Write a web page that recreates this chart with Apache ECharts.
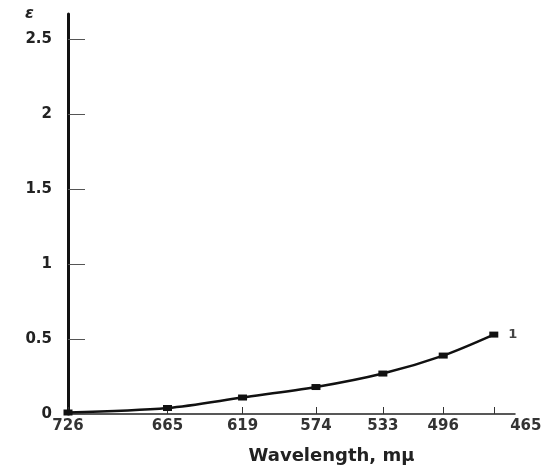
<!DOCTYPE html>
<html><head><meta charset="utf-8">
<script src="https://cdn.jsdelivr.net/npm/echarts@6/dist/echarts.min.js"></script>
<style>html,body{margin:0;padding:0;background:#fff}#c{width:558px;height:470px}</style>
</head><body><div id="c"></div>
<script>
const wavelengths = [726, 665, 619, 574, 533, 496, 465];
const epsilon = [0.01, 0.04, 0.11, 0.18, 0.27, 0.39, 0.53];
const xTicks = [726, 665, 619, 574, 533, 496, 465];
const yTicks = [0, 0.5, 1, 1.5, 2, 2.5];
const curveLabel = '1';

const chart = echarts.init(document.getElementById('c'), null, {renderer: 'canvas'});
const font = '"DejaVu Sans", Verdana, sans-serif';
const seriesData = wavelengths.map((w, i) => {
  const item = {value: [w, epsilon[i]]};
  if (i === wavelengths.length - 1) {
    item.label = {show: true, position: 'right', distance: 10, formatter: curveLabel,
      fontFamily: font, fontSize: 13, fontWeight: 'bold', color: '#444'};
  }
  return item;
});
chart.setOption({
  animation: false,
  backgroundColor: '#fff',
  grid: {left: 68, right: 43, top: 14, bottom: 55},
  xAxis: {
    type: 'value', inverse: true, min: 452, max: 726,
    name: 'Wavelength, m\u03bc', nameLocation: 'middle', nameGap: 33,
    nameTextStyle: {fontFamily: font, fontSize: 18, fontWeight: 'bold', color: '#222', padding: [0, 0, 0, 80]},
    axisLine: {lineStyle: {color: '#222', width: 1.5}},
    axisTick: {inside: true, length: 7, customValues: xTicks, lineStyle: {color: '#333', width: 1}},
    axisLabel: {
      customValues: xTicks, margin: 5, fontFamily: font, fontSize: 15, fontWeight: 'bold', color: '#333',
      formatter: v => v === 465 ? '{r|465}' : String(v),
      rich: {r: {padding: [0, 0, 0, 64], fontFamily: font, fontSize: 15, fontWeight: 'bold', color: '#333'}}
    },
    splitLine: {show: false}
  },
  yAxis: {
    type: 'value', min: 0, max: 2.67,
    name: '\u03b5', nameLocation: 'end', nameGap: -8,
    nameTextStyle: {fontFamily: font, fontSize: 16, fontStyle: 'italic', fontWeight: 'bold', color: '#222', align: 'right', padding: [0, 34, 0, 0]},
    axisLine: {lineStyle: {color: '#111', width: 3}},
    axisTick: {inside: true, length: 17, customValues: yTicks, lineStyle: {color: '#555', width: 1}},
    axisLabel: {customValues: yTicks, margin: 16, fontFamily: font, fontSize: 15, color: '#222', fontWeight: 'bold'},
    splitLine: {show: false}
  },
  series: [{
    type: 'line',
    data: seriesData,
    smooth: 0.3,
    symbol: 'rect', symbolSize: [9, 6],
    lineStyle: {color: '#111', width: 2.5},
    itemStyle: {color: '#111'}
  }]
});
</script></body></html>
